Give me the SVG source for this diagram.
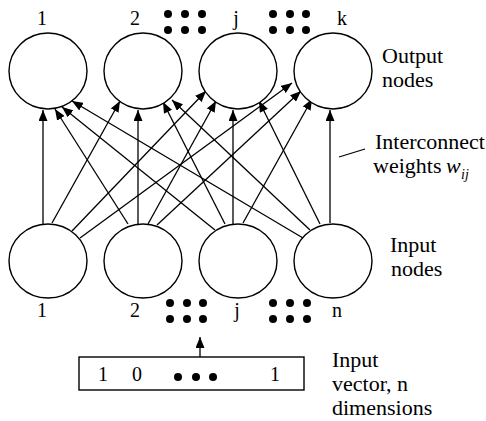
<svg xmlns="http://www.w3.org/2000/svg" width="486" height="421" viewBox="0 0 486 421">
  <defs>
    <marker id="ah" markerUnits="userSpaceOnUse" markerWidth="11" markerHeight="9" refX="11" refY="4.5" orient="auto">
      <path d="M0,0 L11,4.5 L0,9 z" fill="#000"/>
    </marker>
  </defs>
  <style>
    .node { fill: #fff; stroke: #000; stroke-width: 1.4; }
    .conn line { stroke: #000; stroke-width: 1.3; marker-end: url(#ah); }
    .dot { fill: #000; }
  </style>
  <rect width="486" height="421" fill="#fff"/>

  <!-- connectors -->
  <g id="connectors" class="conn">
    <line x1="43" y1="224" x2="43" y2="110"/>
    <line x1="52" y1="223" x2="120" y2="101"/>
    <line x1="72" y1="231" x2="206" y2="91"/>
    <line x1="80" y1="238" x2="292" y2="83"/>
    <line x1="128" y1="224" x2="55" y2="109"/>
    <line x1="138" y1="224" x2="138" y2="110"/>
    <line x1="148" y1="224" x2="216" y2="101"/>
    <line x1="157" y1="225" x2="301" y2="91"/>
    <line x1="215" y1="230" x2="62" y2="107"/>
    <line x1="225" y1="224" x2="163" y2="102"/>
    <line x1="233" y1="224" x2="233" y2="110"/>
    <line x1="243" y1="223" x2="312" y2="99"/>
    <line x1="303" y1="238" x2="72" y2="101"/>
    <line x1="310" y1="230" x2="172" y2="100"/>
    <line x1="320" y1="224" x2="259" y2="101"/>
    <line x1="330" y1="223" x2="330" y2="110"/>
    <line x1="200" y1="357" x2="200" y2="337"/>
  </g>
  <line x1="339" y1="157" x2="365" y2="149" stroke="#000" stroke-width="1.3"/>

  <!-- output nodes -->
  <g id="out1"><ellipse class="node" cx="48" cy="71" rx="39" ry="38"/><text x="42" y="25" font-family="Liberation Serif" font-size="20" text-anchor="middle">1</text></g>
  <g id="out2"><ellipse class="node" cx="143" cy="71" rx="39" ry="38"/><text x="135" y="25" font-family="Liberation Serif" font-size="20" text-anchor="middle">2</text></g>
  <g id="outj"><ellipse class="node" cx="238" cy="71" rx="39" ry="38"/><text x="236" y="25" font-family="Liberation Serif" font-size="20" text-anchor="middle">j</text></g>
  <g id="outk"><ellipse class="node" cx="333" cy="71" rx="39" ry="38"/><text x="342" y="25" font-family="Liberation Serif" font-size="20" text-anchor="middle">k</text></g>

  <g id="top-dots">
    <circle class="dot" cx="168" cy="14" r="4"/><circle class="dot" cx="185" cy="14" r="4"/><circle class="dot" cx="202" cy="14" r="4"/>
    <circle class="dot" cx="168" cy="30" r="4"/><circle class="dot" cx="185" cy="30" r="4"/><circle class="dot" cx="202" cy="30" r="4"/>
    <circle class="dot" cx="273" cy="14" r="4"/><circle class="dot" cx="290" cy="14" r="4"/><circle class="dot" cx="306" cy="14" r="4"/>
    <circle class="dot" cx="273" cy="30" r="4"/><circle class="dot" cx="290" cy="30" r="4"/><circle class="dot" cx="306" cy="30" r="4"/>
  </g>

  <!-- input nodes -->
  <g id="in1"><ellipse class="node" cx="48" cy="261" rx="39" ry="37"/><text x="42" y="317" font-family="Liberation Serif" font-size="20" text-anchor="middle">1</text></g>
  <g id="in2"><ellipse class="node" cx="143" cy="261" rx="39" ry="37"/><text x="135" y="317" font-family="Liberation Serif" font-size="20" text-anchor="middle">2</text></g>
  <g id="inj"><ellipse class="node" cx="238" cy="261" rx="39" ry="37"/><text x="237" y="317" font-family="Liberation Serif" font-size="20" text-anchor="middle">j</text></g>
  <g id="inn"><ellipse class="node" cx="333" cy="261" rx="39" ry="37"/><text x="337" y="317" font-family="Liberation Serif" font-size="20" text-anchor="middle">n</text></g>

  <g id="bottom-dots">
    <circle class="dot" cx="170" cy="303" r="4"/><circle class="dot" cx="187" cy="303" r="4"/><circle class="dot" cx="203" cy="303" r="4"/>
    <circle class="dot" cx="170" cy="319" r="4"/><circle class="dot" cx="187" cy="319" r="4"/><circle class="dot" cx="203" cy="319" r="4"/>
    <circle class="dot" cx="273" cy="303" r="4"/><circle class="dot" cx="290" cy="303" r="4"/><circle class="dot" cx="307" cy="303" r="4"/>
    <circle class="dot" cx="273" cy="319" r="4"/><circle class="dot" cx="290" cy="319" r="4"/><circle class="dot" cx="307" cy="319" r="4"/>
  </g>

  <!-- input vector -->
  <g id="input-vector">
    <rect x="79" y="357" width="225" height="33" fill="#fff" stroke="#000" stroke-width="1.4"/>
    <text x="103" y="381" font-family="Liberation Serif" font-size="20" text-anchor="middle">1</text>
    <text x="137" y="381" font-family="Liberation Serif" font-size="20" text-anchor="middle">0</text>
    <circle class="dot" cx="178" cy="377" r="4"/><circle class="dot" cx="196" cy="377" r="4"/><circle class="dot" cx="213" cy="377" r="4"/>
    <text x="275" y="381" font-family="Liberation Serif" font-size="20" text-anchor="middle">1</text>
  </g>

  <!-- side labels -->
  <g id="labels">
    <text x="382" y="63" font-family="Liberation Serif" font-size="22">Output</text>
    <text x="382" y="87" font-family="Liberation Serif" font-size="22">nodes</text>
    <text x="375" y="149" font-family="Liberation Serif" font-size="22">Interconnect</text>
    <text x="373" y="173" font-family="Liberation Serif" font-size="22">weights</text>
    <text x="446" y="173" font-family="Liberation Serif" font-size="22" font-style="italic">w</text>
    <text x="461" y="179" font-family="Liberation Serif" font-size="14" font-style="italic">ij</text>
    <text x="390" y="252" font-family="Liberation Serif" font-size="22">Input</text>
    <text x="391" y="276" font-family="Liberation Serif" font-size="22">nodes</text>
    <text x="332" y="367" font-family="Liberation Serif" font-size="22">Input</text>
    <text x="332" y="391" font-family="Liberation Serif" font-size="22">vector, n</text>
    <text x="332" y="415" font-family="Liberation Serif" font-size="22">dimensions</text>
  </g>
</svg>
